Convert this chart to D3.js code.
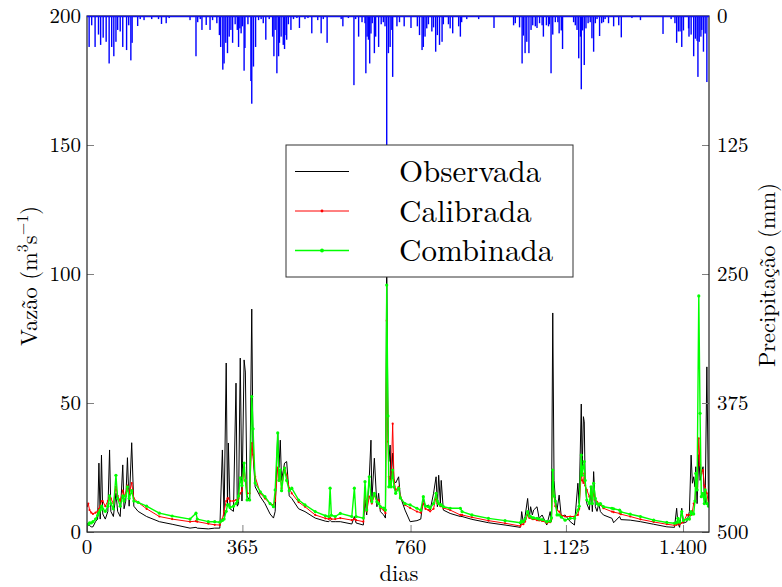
<!DOCTYPE html>
<html>
<head>
<meta charset="utf-8">
<script src="https://cdn.jsdelivr.net/npm/d3@7/dist/d3.min.js"></script>
<style>
  body { margin: 0; background: #fff; }
</style>
</head>
<body>
<svg id="chart" width="782" height="587"></svg>
<script>
// Daily discharge (m3/s): observed, calibrated model, combined model
const days = [0,3,6,10,14,20,25,28,31,34,37,43,49,53,56,62,68,72,78,84,87,91,95,99,105,110,120,140,170,200,242,256,259,285,300,312,318,322,327,330,332,336,344,350,353,356,360,364,369,372,376,382,387,390,395,407,418,430,438,442,448,451,454,457,464,469,475,481,497,512,536,560,568,571,574,583,595,622,628,632,649,653,657,663,667,669,675,681,685,689,697,701,704,707,709,712,714,718,721,725,732,736,747,759,775,784,790,795,802,806,814,820,823,826,830,832,837,853,877,881,904,943,982,1018,1021,1025,1029,1035,1039,1042,1046,1049,1057,1062,1069,1080,1088,1091,1094,1097,1100,1104,1109,1114,1123,1135,1145,1153,1156,1161,1163,1166,1168,1170,1174,1180,1184,1187,1190,1194,1198,1202,1206,1213,1233,1237,1251,1254,1276,1300,1331,1362,1380,1385,1388,1392,1397,1401,1409,1415,1419,1422,1425,1428,1430,1433,1437,1440,1443,1447,1450,1452,1456,1460,1461];
const observada = [2,2.5,2.5,2,2,4,5,26.7,5,29.8,7,5,8,31.8,8,6,15,8,6,26,9,12,28.8,10,34.6,10,8,6,4,3,1.5,1.8,1.5,1.2,1.5,1.5,31.8,6,65.5,10,34.5,9,8,57.7,10,11,67.4,12,66.7,62,14,12,86.4,30,17.5,13.7,11,7,5.4,8,38.4,25,35.6,20,26.7,27.3,14,13,9,7.9,5.4,4.2,4,4.5,4,4,4,3.1,6,3.5,2.7,12.4,6.6,21,35.6,12.4,28.6,9.8,15,7.9,6.6,5.4,105,40,27.3,33.7,20,30.6,20,19,21.4,13.7,8.5,4,4.4,5,13,9.8,10.5,8.5,15,21.4,9.8,22,11,20,8.5,7.2,6,6,4.9,3.6,2.7,1.8,7.9,3.4,6,13,5.3,9.8,6.6,8.5,9.8,5.3,6.6,2.7,7.9,4,84.9,20,13,8.5,14.3,6,6.6,4,2.7,18.9,11,49.6,24,44.7,42.7,20,11,8.5,17.5,7.9,23.4,9.8,8,11,7.9,6.6,5.3,3.6,6,4.8,4.6,4,3,2,1.8,9.2,3.4,1.8,9.2,3.4,4,7.9,29.8,18.9,21.4,17.5,25.3,11,30,20,22.7,25.3,13.7,11,64,9.8,10];
const calibrada = [10,11,8.5,7.5,7,7.5,8,9,10,12,12,10,12,14,13,11,17.5,14,12,16,14,15,18,15,19,13,11.5,9,6,5,4,4.2,4,3.2,2.8,2.7,5,8,12,13,13,12,12,12.4,12,13,15,16,25,20,15,15,34.5,30,21.4,15,13,11,10.5,12,25,20,22,17,25,22,17,15,11.6,9.8,6.6,5.3,5,5.5,5,5,5.4,4.6,5,4.6,4,17,8,13.7,12,11,14.3,11.7,12.4,9.3,8.5,7.3,81.9,35,21.4,20,18,42,20,16.3,17.5,13.7,10.5,9.3,7.9,7.5,11,9,8.5,8,9,13.7,11,11,10,10,9.3,8.5,6.6,6.6,5.7,4.4,3.4,2.3,3,3,4,6.6,5.5,5.5,5,5,4.6,4.5,4.3,3.5,3.8,5,20,14,10,8.5,7.9,6.5,6,6,6,6.6,9,22.8,20,19,22.7,18,16.3,13.7,15,12.5,15,12.4,11.7,11,10.5,9.2,7.9,7.7,7.2,6.9,6,4.9,3.9,3,2.6,2.8,3.2,3,3.5,4,6.6,6.6,6.6,8,11,12,17.5,17.5,36.3,26,22.7,24,18,17,15,11,11];
const combinada = [3,3,3.5,3.5,4,5,6.5,7.5,8.5,10,9,8,10,14,11,9,22,13,10,14,12,14,17.5,13,16,12,11.5,10,7.3,6.2,5,7.3,5,4,4,3.8,4.5,5,8,10.5,10.5,9.5,10,11,12,14,21,18,26.7,20,12.4,12.4,52.5,40,19,15.6,13.7,11,9.8,16.3,38.4,20,24,16,24.8,20,16,17,12.4,10.5,7.9,6.3,6,17,6.5,6,7.2,6,17,6,5.4,19.5,8.5,21.4,13.2,11.7,15,11.7,11,9.8,9.3,8.5,95.7,45,17.5,19.5,17.5,24,17.5,15,17,13.2,11,10.5,9.2,8.5,13.7,10,9.8,9.3,11,15,12,11,10.5,10.5,9.8,9.2,9.2,7.9,6.6,5.3,4.4,3.6,4.2,4,5,7.9,6.2,6,5.5,5.5,5.3,5,4.8,4,4.2,5.5,24,14,12,6.6,6.6,5.8,4.6,5.3,5.3,8.5,10,29.8,22,25.3,27.3,20,12.4,11,17.5,11,18.9,13,11,10.5,11,9.8,9.2,9,8.5,7.8,6.9,6,4.6,3.7,3.4,3.6,5.3,3.8,7.9,4.5,4.9,5,7.9,7,7,12,22.7,16.3,91.5,46,13.7,15,11,16.3,11,10,11];

// Daily precipitation (mm), hanging from the top axis
const rainDays = [5,11,19,27,32,38,45,52,58,63,68,72,78,84,93,98,103,106,119,125,134,152,168,175,186,193,242,256,260,266,270,280,289,295,305,311,314,319,322,326,330,334,338,342,348,353,356,359,362,365,369,371,378,385,387,391,396,403,409,414,420,428,436,439,442,446,450,452,456,461,464,465,469,473,479,485,493,499,512,519,528,542,550,555,564,597,601,614,627,631,638,646,653,655,658,661,664,667,670,675,678,685,691,696,700,704,708,712,716,718,728,734,745,761,776,781,787,790,794,798,802,810,814,819,823,828,834,837,849,853,859,873,877,880,892,920,956,1002,1006,1016,1022,1025,1029,1033,1038,1043,1047,1053,1057,1063,1069,1072,1079,1084,1086,1090,1094,1100,1106,1109,1114,1117,1143,1147,1151,1155,1159,1161,1164,1168,1172,1177,1182,1186,1190,1194,1198,1204,1209,1213,1217,1225,1237,1249,1255,1280,1300,1353,1372,1381,1385,1389,1393,1397,1401,1413,1414,1419,1425,1429,1433,1435,1438,1442,1444,1448,1452,1456];
const rainMm = [30,9,30,18,28,21,25,46,30,39,25,13.5,15,30,33,9,43,26,9.7,3,4,3,3,7.7,7,2,4,39,6,3,13.5,8.7,13.5,4,7,18.5,30,52,46,26,36,20,13.5,26,8,13.5,30,12,16.8,10,53,31,8,63,85,49,30,4,3,7,23,3,20,39,13.5,55.5,39,26,20,28,32,18.5,23,8,13.5,3,2,11.6,3,2,16.8,4,16.8,3,26,3,10,2,67,3,20,6,7,55.5,20,23,46,17,7,36,20,30,8,6,10,128,36,30,13.5,59,10,6,10,11.6,10,18.5,33,30,20,12,8,15,11,34.6,18.5,28,25,8,8,12,16.8,10,20,6,3,3,11.6,9,7,11,46,19,36,25,36,13.5,9,10,11.6,7,9,20,9,10,8,55.5,18,6,6,16.8,14,32,6,9,13.5,41,20,71,14,47.5,12,7,6,21.6,34.6,7,3,19.4,7,6,3,7,10,9,20.7,2,4,17.4,3,7,26,15,15,30,14,12,20,18,39,22,24,59,25,20,13.5,34.6,17,64];

const xTickValues = [0, 365, 760, 1125, 1400];
const xTickLabels = ["0", "365", "760", "1.125", "1.400"];
const yTickValues = [0, 50, 100, 150, 200];
const rainTickValues = [0, 125, 250, 375, 500];

const FONT = '"Latin Modern Roman", "CMU Serif", "Liberation Serif", serif';
const svg = d3.select("#chart");
const L = 87, R = 709, T = 16, B = 532;

const x = d3.scaleLinear().domain([0, 1461]).range([L, R]);
const y = d3.scaleLinear().domain([0, 200]).range([B, T]);
const yRain = d3.scaleLinear().domain([0, 500]).range([T, B]);

svg.append("defs").append("clipPath").attr("id", "plotclip")
  .append("rect").attr("x", L).attr("y", T).attr("width", R - L).attr("height", B - T);

const plot = svg.append("g").attr("clip-path", "url(#plotclip)");

// precipitation bars
plot.append("g").selectAll("rect")
  .data(rainDays.map((d, i) => ({ d, v: rainMm[i] })))
  .join("rect")
  .attr("x", p => x(p.d) - 0.7)
  .attr("y", yRain(0))
  .attr("width", 1.4)
  .attr("height", p => yRain(p.v) - yRain(0))
  .attr("fill", "#0000ff");

const series = [
  { name: "Observada", values: observada, color: "#000000", width: 1, r: 0 },
  { name: "Calibrada", values: calibrada, color: "#ff0000", width: 1, r: 1.1 },
  { name: "Combinada", values: combinada, color: "#00ff00", width: 1.4, r: 1.6 }
];

const line = d3.line().x(p => x(p[0])).y(p => y(p[1]));

series.forEach(s => {
  const pts = days.map((d, i) => [d, s.values[i]]);
  plot.append("path")
    .datum(pts)
    .attr("d", line)
    .attr("fill", "none")
    .attr("stroke", s.color)
    .attr("stroke-width", s.width)
    .attr("stroke-linejoin", "round");
  if (s.r > 0) {
    plot.append("g").selectAll("circle")
      .data(pts)
      .join("circle")
      .attr("cx", p => x(p[0]))
      .attr("cy", p => y(p[1]))
      .attr("r", s.r)
      .attr("fill", s.color);
  }
});

// axes (ticks point inward)
const tickColor = "#808080";
const tickFont = 21;

function label(sel, size) {
  return sel.style("font-family", FONT).style("font-size", size + "px").attr("fill", "#000");
}

const leftAxis = svg.append("g").attr("transform", `translate(${L},0)`)
  .call(d3.axisRight(y).tickValues(yTickValues).tickSize(7).tickFormat(""));
leftAxis.select(".domain").remove();
leftAxis.selectAll("line").attr("stroke", tickColor);
label(svg.append("g").selectAll("text").data(yTickValues).join("text"), tickFont)
  .attr("x", L - 6).attr("y", v => y(v) + 7)
  .attr("text-anchor", "end")
  .text(v => v);

const rightAxis = svg.append("g").attr("transform", `translate(${R},0)`)
  .call(d3.axisLeft(yRain).tickValues(rainTickValues).tickSize(7).tickFormat(""));
rightAxis.select(".domain").remove();
rightAxis.selectAll("line").attr("stroke", tickColor);
label(svg.append("g").selectAll("text").data(rainTickValues).join("text"), tickFont)
  .attr("x", R + 8).attr("y", v => yRain(v) + 7)
  .attr("text-anchor", "start")
  .text(v => v);

const bottomAxis = svg.append("g").attr("transform", `translate(0,${B})`)
  .call(d3.axisTop(x).tickValues(xTickValues).tickSize(7).tickFormat(""));
bottomAxis.select(".domain").remove();
bottomAxis.selectAll("line").attr("stroke", tickColor);
label(svg.append("g").selectAll("text").data(xTickValues).join("text"), tickFont)
  .attr("x", v => x(v)).attr("y", B + 22)
  .attr("text-anchor", "middle")
  .text((v, i) => xTickLabels[i]);

// frame
svg.append("rect").attr("x", L).attr("y", T).attr("width", R - L).attr("height", B - T)
  .attr("fill", "none").attr("stroke", "#222").attr("stroke-width", 1.2);
svg.append("line").attr("x1", L).attr("x2", R).attr("y1", T + 0.5).attr("y2", T + 0.5)
  .attr("stroke", "#1010f0").attr("stroke-width", 1.6);

// axis titles
label(svg.append("text"), 22.5).attr("x", (L + R) / 2 + 1).attr("y", 581)
  .attr("text-anchor", "middle").text("dias");

const yTitle = label(svg.append("text"), 22.5)
  .attr("transform", "translate(37,276) rotate(-90)")
  .attr("text-anchor", "middle");
yTitle.append("tspan").text("Vazão (m");
yTitle.append("tspan").attr("dy", -9).style("font-size", "16px").text("3");
yTitle.append("tspan").attr("dy", 9).text("s");
yTitle.append("tspan").attr("dy", -9).style("font-size", "16px").text("−1");
yTitle.append("tspan").attr("dy", 9).text(")");

label(svg.append("text"), 22.5)
  .attr("transform", "translate(775,275) rotate(-90)")
  .attr("text-anchor", "middle")
  .text("Precipitação (mm)");

// legend
const lg = svg.append("g");
lg.append("rect").attr("x", 286).attr("y", 145).attr("width", 287).attr("height", 132)
  .attr("fill", "#fff").attr("stroke", "#333").attr("stroke-width", 1);
const rowsY = [171.5, 211, 250.5];
series.forEach((s, i) => {
  lg.append("line").attr("x1", 295).attr("x2", 349).attr("y1", rowsY[i]).attr("y2", rowsY[i])
    .attr("stroke", s.color).attr("stroke-width", s.width);
  if (s.r > 0) {
    lg.append("circle").attr("cx", 322).attr("cy", rowsY[i]).attr("r", s.r + 0.3).attr("fill", s.color);
  }
  label(lg.append("text"), 31).attr("x", 399).attr("y", rowsY[i] + 10.5)
    .text(s.name);
});
</script>
</body>
</html>
